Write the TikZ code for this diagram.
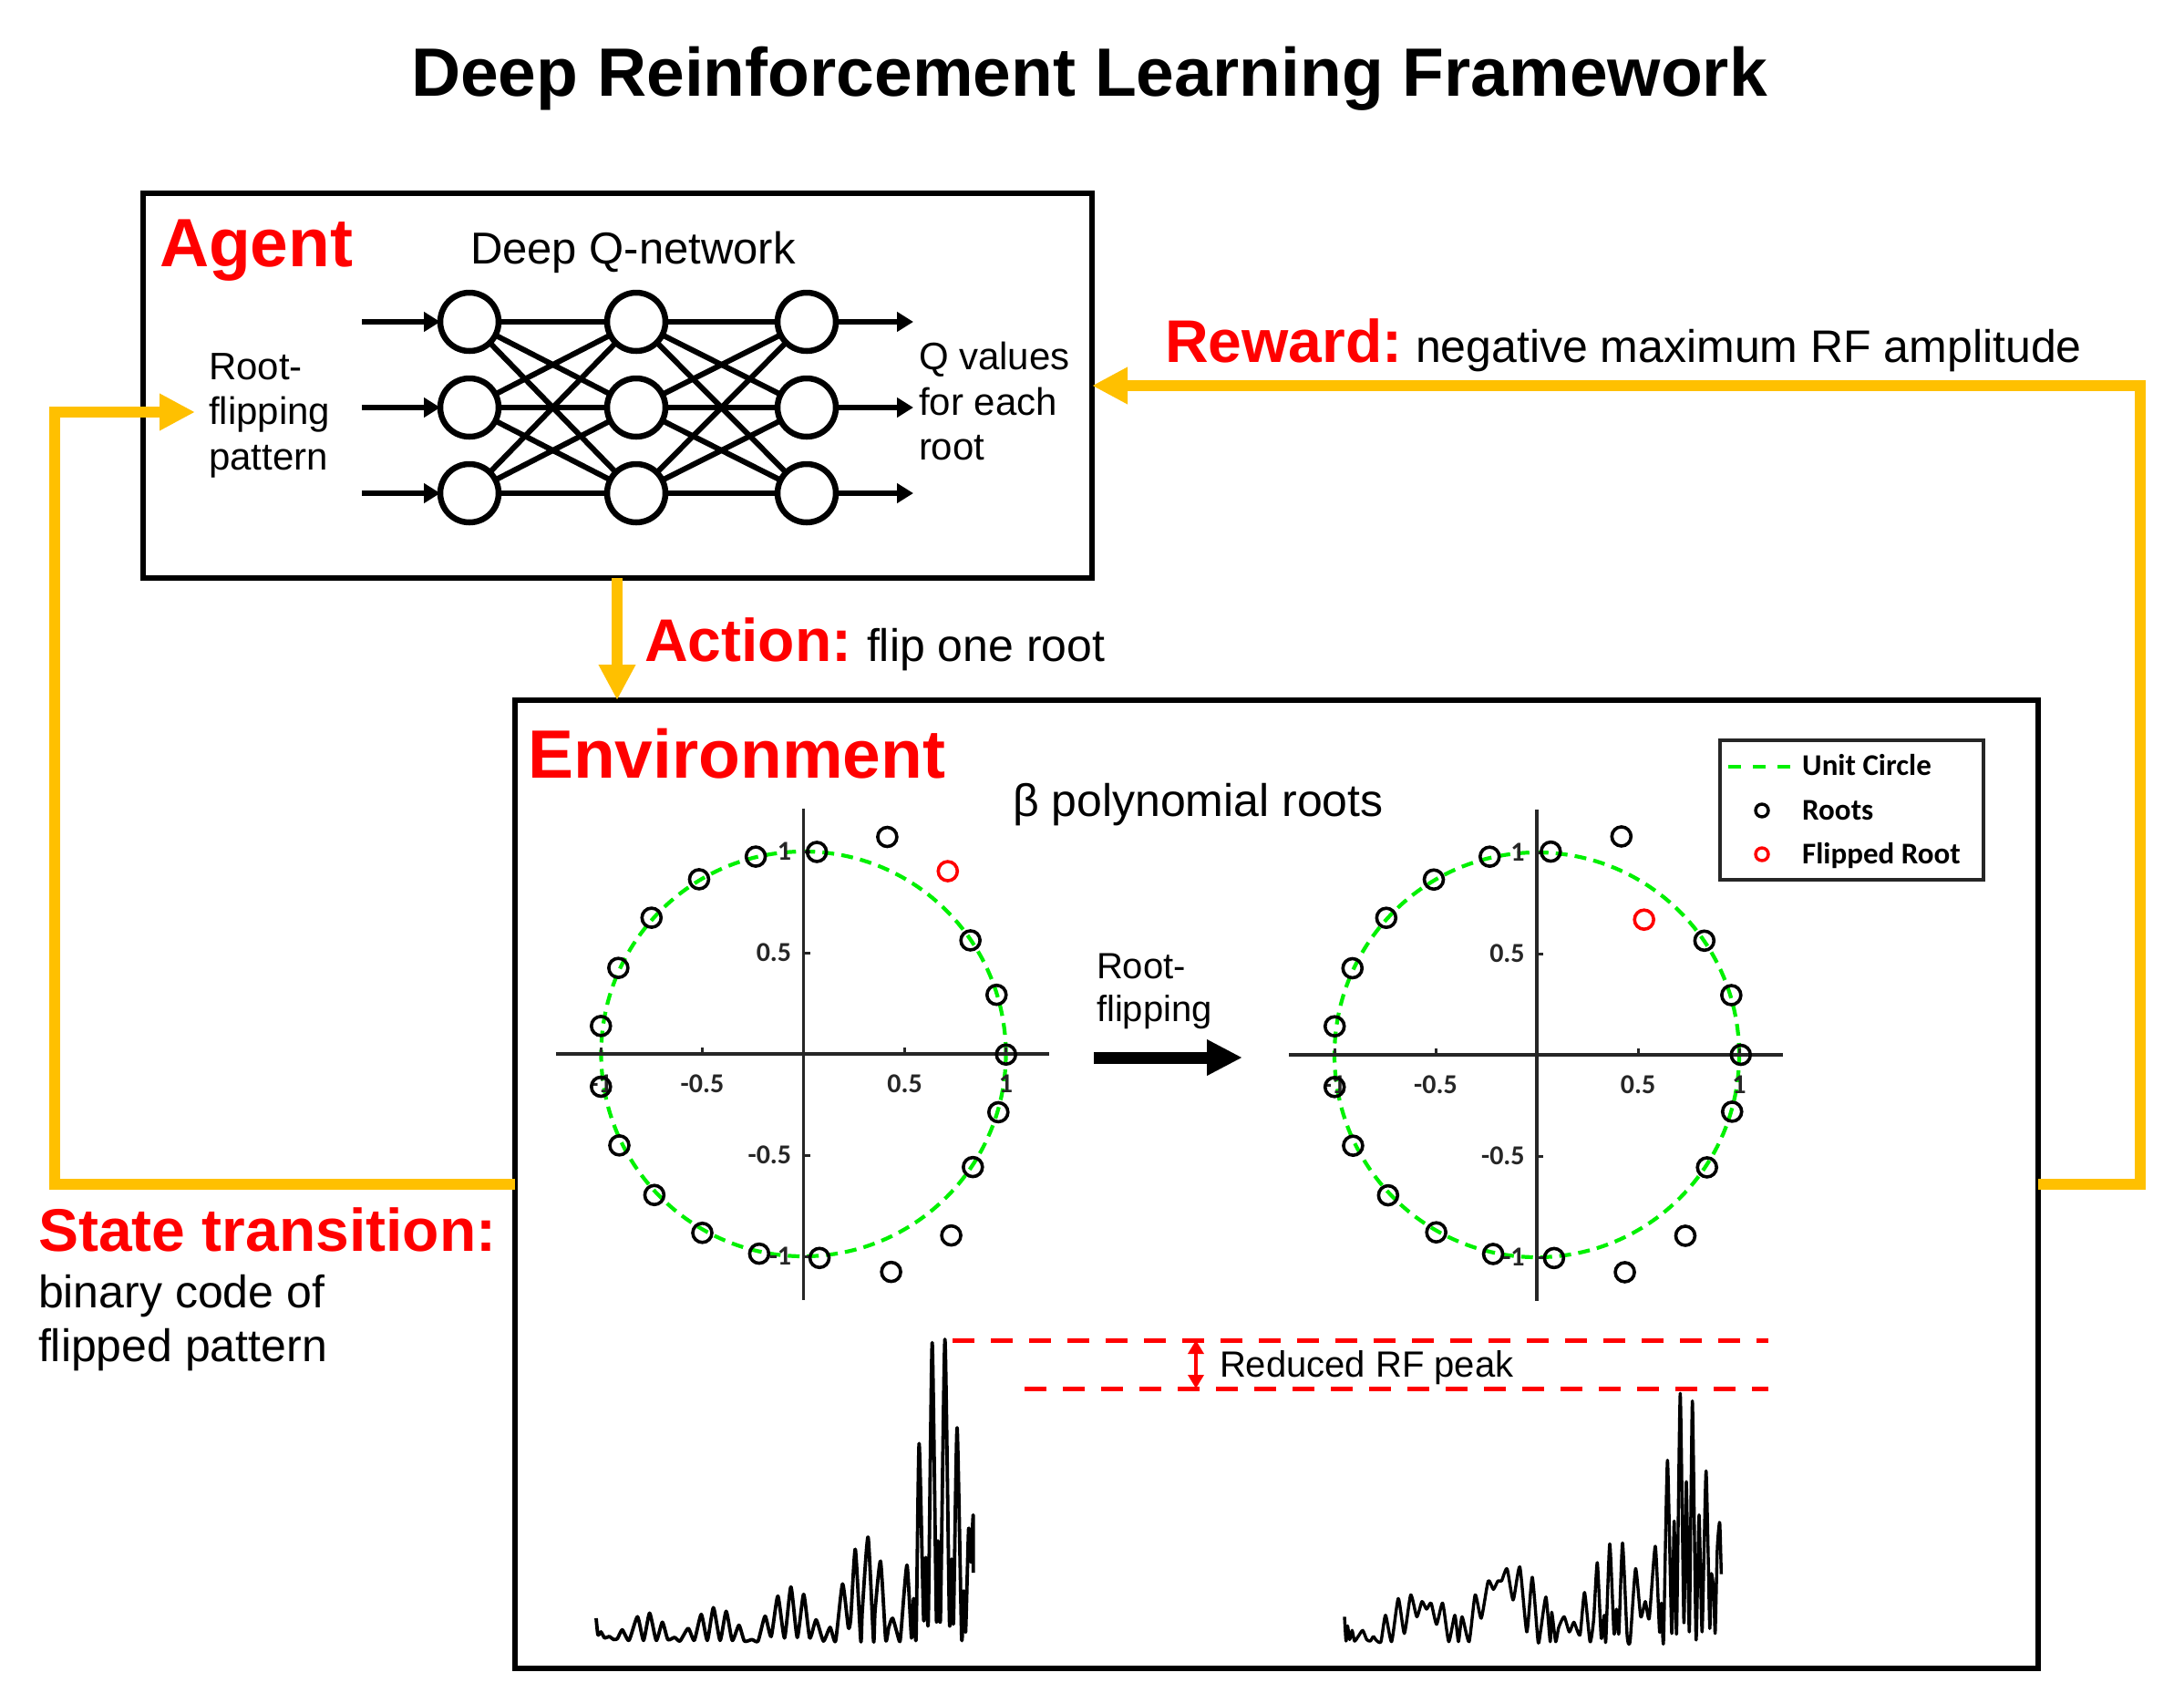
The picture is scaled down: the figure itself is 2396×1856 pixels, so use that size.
\documentclass[tikz,border=0pt]{standalone}
\usepackage{fontspec}
\setmainfont{Liberation Sans}
\newfontfamily\cali{Carlito}
\usetikzlibrary{arrows.meta}
\definecolor{ylw}{RGB}{255,192,0}
\definecolor{axgray}{RGB}{38,38,38}
\definecolor{ucgreen}{RGB}{0,240,0}
\begin{document}
\begin{tikzpicture}[x=1pt,y=-1pt,line join=miter]
\tikzset{
 box/.style={draw, line width=6pt, inner sep=0pt, outer sep=0pt},
 neuron/.style={circle, draw, line width=6.5pt, minimum size=64pt, inner sep=0pt, outer sep=0pt},
 nnline/.style={line width=6pt},
 nnarrow/.style={line width=6pt, -{Triangle[length=18pt,width=21pt]}},
 yarrow/.style={draw=ylw, line width=12pt, -{Triangle[length=39pt,width=38pt]}},
 lbl/.style={anchor=base west, inner sep=0pt, outer sep=0pt},
 bigred/.style={lbl, text=red, font=\fontsize{75}{90}\selectfont\bfseries},
 redlab/.style={lbl, text=red, font=\fontsize{66}{80}\selectfont\bfseries},
 body/.style={lbl, font=\fontsize{50}{60}\selectfont},
 smalltxt/.style={lbl, font=\fontsize{42}{50}\selectfont},
 ticklab/.style={inner sep=0pt, outer sep=0pt, text=axgray, font=\cali\bfseries\fontsize{30}{34}\selectfont},
 axisline/.style={draw=axgray, line width=3.5pt},
 unitcirc/.style={draw=ucgreen, line width=4.2pt, dash pattern=on 13pt off 8pt},
 rootmark/.style={circle, draw, line width=3.6pt, minimum size=21pt, inner sep=0pt},
 legmark/.style={circle, draw, line width=3.4pt, minimum size=14pt, inner sep=0pt},
 legtxt/.style={anchor=base west, inner sep=0pt, font=\cali\bfseries\fontsize{33}{40}\selectfont},
 spec/.style={line width=3.8pt, line join=round},
 reddash/.style={draw=red, line width=5pt, dash pattern=on 24pt off 18pt},
}
\fill[white] (0,0) rectangle (2396,1856);
\useasboundingbox (0,0) rectangle (2396,1856);

% Title
\node[anchor=base, inner sep=0pt, font=\fontsize{75}{90}\selectfont\bfseries] (title) at (1195,105) {Deep Reinforcement Learning Framework};

% Boxes
\node[box, minimum width=1041pt, minimum height=422pt] (agent) at (677.5,423) {};
\node[box, minimum width=1671pt, minimum height=1062pt] (env) at (1400.5,1299) {};

% Agent contents
\node[bigred] (agentlbl) at (175,292) {Agent};
\node[lbl, font=\fontsize{49}{58}\selectfont] (dqn) at (516,289) {Deep Q-network};
\node[smalltxt] (rf1) at (229,416) {Root-};
\node[smalltxt] (rf2) at (229,465) {flipping};
\node[smalltxt] (rf3) at (229,515) {pattern};
\node[smalltxt] (qv1) at (1008,405) {Q values};
\node[smalltxt] (qv2) at (1008,455) {for each};
\node[smalltxt] (qv3) at (1008,504) {root};

\foreach \c/\x in {1/515,2/698,3/885}
  \foreach \r/\y in {1/353,2/447,3/541}
    \node[neuron] (n\c\r) at (\x,\y) {};
\foreach \a in {1,2,3}
  \foreach \b in {1,2,3} {
    \draw[nnline] (n1\a) -- (n2\b);
    \draw[nnline] (n2\a) -- (n3\b);
  }
\foreach \r/\y in {1/353,2/447,3/541} {
  \coordinate (in\r) at (397,\y);
  \coordinate (out\r) at (1002,\y);
  \draw[nnarrow] (in\r) -- (n1\r);
  \draw[nnarrow] (n3\r) -- (out\r);
}

% Yellow connectors
\coordinate (stateIn) at (214,452);
\coordinate (actx) at (677,0);
\draw[yarrow] (env.west) -- ++(-505,0) |- (stateIn);
\draw[yarrow] (env.east) -- ++(112,0) |- (agent.east);
\draw[yarrow] (agent.south -| actx) -- (env.north -| actx);

% Labels outside
\node[redlab] (rewlbl) at (1278,397) {Reward:};
\node[body] (rewtxt) at (1553,397) {negative maximum RF amplitude};
\node[redlab] (actlbl) at (707,725) {Action:};
\node[body] (acttxt) at (951,725) {flip one root};
\node[redlab] (stlbl) at (42,1372) {State transition:};
\node[body] (st1) at (42,1434) {binary code of};
\node[body] (st2) at (42,1493) {flipped pattern};

% Environment contents
\node[bigred] (envlbl) at (579,853) {Environment};
\node[body] (betalbl) at (1111,895) {β polynomial roots};

% Left root plot
\begin{scope}[shift={(881.5pt,-1156pt)}, x=222pt, y=222pt]
  \draw[unitcirc] (0,0) circle[radius=1];
  \draw[axisline] (-1.223,0) -- (1.214,0);
  \draw[axisline] (0,1.212) -- (0,-1.216);
  \foreach \t in {-1,-0.5,0.5,1} {
    \draw[axisline, line width=3pt] (0,\t) -- ++(7pt,0pt);
    \draw[axisline, line width=3pt] (\t,0) -- ++(0pt,7pt);
  }
  \node[ticklab, anchor=east] (ly1) at (-0.06,1) {1};
  \node[ticklab, anchor=east] (ly2) at (-0.06,0.5) {0.5};
  \node[ticklab, anchor=east] (ly3) at (-0.06,-0.5) {-0.5};
  \node[ticklab, anchor=east] (ly4) at (-0.06,-1) {-1};
  \node[ticklab] (lx1) at (-1,-0.149) {-1};
  \node[ticklab] (lx2) at (-0.5,-0.149) {-0.5};
  \node[ticklab] (lx3) at (0.5,-0.149) {0.5};
  \node[ticklab] (lx4) at (1,-0.149) {1};
  \foreach \u/\v [count=\i] in {0.066/0.998,0.414/1.072,0.825/0.561,0.954/0.292,1.001/-0.003,0.963/-0.288,0.837/-0.559,0.730/-0.897,0.433/-1.077,0.079/-1.008,-0.219/-0.987,-0.500/-0.884,-0.737/-0.697,-0.910/-0.452,-1.001/-0.162,-1.001/0.138,-0.915/0.425,-0.751/0.673,-0.516/0.863,-0.236/0.975}
    \node[rootmark] (lr\i) at (\u,\v) {};
  \node[rootmark, draw=red] (lrred) at (0.713,0.903) {};
\end{scope}

% Right root plot
\begin{scope}[shift={(1686pt,-1157pt)}, x=222pt, y=222pt]
  \draw[unitcirc] (0,0) circle[radius=1];
  \draw[axisline] (-1.225,0) -- (1.216,0);
  \draw[axisline] (0,1.212) -- (0,-1.216);
  \foreach \t in {-1,-0.5,0.5,1} {
    \draw[axisline, line width=3pt] (0,\t) -- ++(7pt,0pt);
    \draw[axisline, line width=3pt] (\t,0) -- ++(0pt,7pt);
  }
  \node[ticklab, anchor=east] (ry1) at (-0.06,1) {1};
  \node[ticklab, anchor=east] (ry2) at (-0.06,0.5) {0.5};
  \node[ticklab, anchor=east] (ry3) at (-0.06,-0.5) {-0.5};
  \node[ticklab, anchor=east] (ry4) at (-0.06,-1) {-1};
  \node[ticklab] (rx1) at (-1,-0.149) {-1};
  \node[ticklab] (rx2) at (-0.5,-0.149) {-0.5};
  \node[ticklab] (rx3) at (0.5,-0.149) {0.5};
  \node[ticklab] (rx4) at (1,-0.149) {1};
  \foreach \u/\v [count=\i] in {0.069/1.004,0.418/1.079,0.828/0.564,0.961/0.295,1.008/0,0.965/-0.281,0.841/-0.556,0.734/-0.894,0.435/-1.074,0.085/-1.004,-0.216/-0.984,-0.497/-0.877,-0.735/-0.694,-0.908/-0.449,-0.999/-0.159,-0.999/0.141,-0.911/0.428,-0.744/0.677,-0.509/0.866,-0.233/0.979}
    \node[rootmark] (rr\i) at (\u,\v) {};
  \node[rootmark, draw=red] (rrred) at (0.530,0.668) {};
\end{scope}

% Legend
\node[draw=axgray, fill=white, line width=4pt, minimum width=289pt, minimum height=153pt, inner sep=0pt] (legend) at (2031.5,888.5) {};
\coordinate (lgA) at (1896,841);
\coordinate (lgB) at (1971,841);
\draw[draw=ucgreen, line width=4pt, dash pattern=on 14pt off 13pt] (lgA) -- (lgB);
\node[legtxt] (lg1) at (1977,850) {Unit Circle};
\node[legmark] (lgm2) at (1933,889) {};
\node[legtxt] (lg2) at (1977,899) {Roots};
\node[legmark, draw=red] (lgm3) at (1933,937) {};
\node[legtxt] (lg3) at (1977,947) {Flipped Root};

% Root-flipping arrow
\node[lbl, font=\fontsize{40}{48}\selectfont] (rfa1) at (1203,1073) {Root-};
\node[lbl, font=\fontsize{40}{48}\selectfont] (rfa2) at (1203,1120) {flipping};
\coordinate (rfs) at (1200,1160);
\coordinate (rfe) at (1363,1160);
\draw[line width=13pt, -{Triangle[length=39pt,width=37pt]}] (rfs) -- (rfe);

% Spectra
\begin{scope}[shift={(640pt,-1460pt)}, x=0.33333pt, y=-0.33333pt]
\draw[spec] plot[smooth, tension=0.35] coordinates {(42,945) (48,1000) (58,990) (70,1010) (85,1005) (100,1015) (112,1012) (128,983) (150,1018) (178,940) (198,1018) (218,928) (240,1018) (260,958) (278,1015) (300,1008) (318,1020) (345,978) (365,1018) (388,932) (408,1018) (428,910) (450,1018) (470,922) (490,1018) (512,968) (530,1020) (555,1015) (575,1020) (598,938) (618,1005) (640,872) (662,1010) (683,842) (704,1008) (725,866) (745,1010) (766,950) (790,1020) (812,975) (830,1020) (853,832) (872,975) (880,945) (895,718) (913,1020) (918,920) (937,678) (955,1020) (960,920) (978,757) (995,1015) (1005,975) (1018,945) (1040,1020) (1045,995) (1065,770) (1080,1010) (1087,880) (1095,1010) (1105,370) (1120,950) (1127,745) (1135,960) (1148,38) (1162,950) (1167,690) (1175,950) (1190,27) (1205,960) (1212,750) (1218,960) (1230,318) (1245,1010) (1252,855) (1258,990) (1268,650) (1275,760) (1283,605) (1283,795)};
\end{scope}
\begin{scope}[shift={(1460pt,-1460pt)}, x=0.33333pt, y=-0.33333pt]
\draw[spec, line width=3.4pt] plot[smooth, tension=0.35] coordinates {(45,940) (50,1020) (55,970) (62,1015) (70,985) (78,1020) (90,1005) (105,985) (118,1015) (130,1020) (140,1005) (150,1018) (165,1022) (180,935) (200,1022) (222,880) (242,995) (263,868) (283,940) (300,890) (315,915) (330,895) (348,965) (368,895) (388,1022) (408,935) (420,1022) (432,940) (455,1022) (475,868) (495,945) (518,822) (535,850) (550,822) (562,822) (580,782) (600,885) (622,776) (645,990) (663,810) (682,1022) (690,990) (708,875) (722,1022) (727,925) (740,1022) (750,975) (768,940) (785,990) (800,958) (820,1000) (835,860) (853,1022) (865,950) (877,762) (890,1010) (900,935) (905,1022) (918,700) (932,995) (940,915) (948,995) (960,697) (975,1000) (985,1020) (1003,782) (1020,940) (1035,890) (1048,945) (1068,708) (1082,990) (1088,895) (1095,1022) (1108,425) (1122,995) (1130,625) (1138,995) (1150,205) (1162,960) (1170,495) (1180,990) (1190,230) (1202,1015) (1212,605) (1222,990) (1235,460) (1247,975) (1252,800) (1260,850) (1265,995) (1272,715) (1280,630) (1285,800)};
\end{scope}

% Reduced RF peak markers
\coordinate (up1) at (1045,1470);
\coordinate (up2) at (1940,1470);
\coordinate (lo1) at (1124,1523);
\coordinate (lo2) at (1940,1523);
\draw[reddash] (up1) -- (up2);
\draw[reddash] (lo1) -- (lo2);
\coordinate (da1) at (1312,1470);
\coordinate (da2) at (1312,1523);
\draw[draw=red, line width=3.5pt, {Triangle[length=15pt,width=17pt]}-{Triangle[length=15pt,width=17pt]}] (da1) -- (da2);
\node[lbl, font=\fontsize{40}{48}\selectfont] (redlbl) at (1338,1510) {Reduced RF peak};

\end{tikzpicture}
\end{document}
